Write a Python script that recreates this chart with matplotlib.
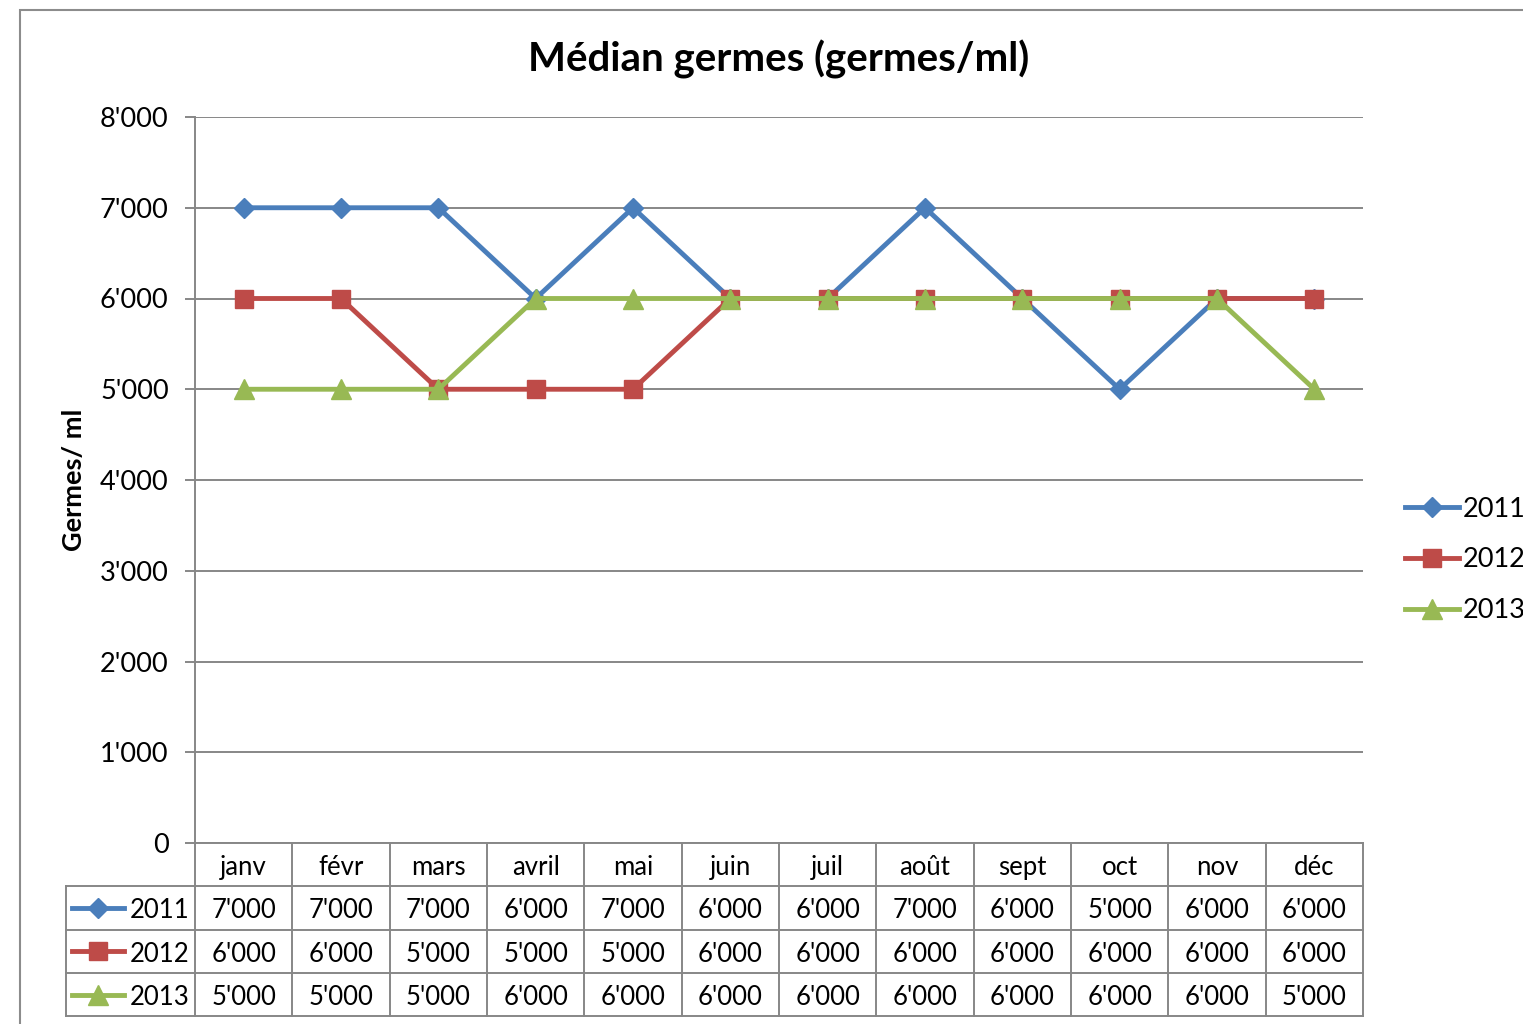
import matplotlib
matplotlib.use("Agg")
import matplotlib.pyplot as plt
from matplotlib.lines import Line2D
from matplotlib.patches import Rectangle
from matplotlib.ticker import FuncFormatter

plt.rcParams['font.family'] = ['Lato', 'DejaVu Sans']

months = ['janv', 'févr', 'mars', 'avril', 'mai', 'juin',
          'juil', 'août', 'sept', 'oct', 'nov', 'déc']
years = ['2011', '2012', '2013']
v2011 = [7000, 7000, 7000, 6000, 7000, 6000, 6000, 7000, 6000, 5000, 6000, 6000]
v2012 = [6000, 6000, 5000, 5000, 5000, 6000, 6000, 6000, 6000, 6000, 6000, 6000]
v2013 = [5000, 5000, 5000, 6000, 6000, 6000, 6000, 6000, 6000, 6000, 6000, 5000]
series = [v2011, v2012, v2013]
colors = ['#4A7EBB', '#BE4B48', '#98B954']
markers = ['D', 's', '^']
msizes = [10.5, 13.5, 14.5]


def swiss(v, pos=None):
    return f"{int(v):,}".replace(',', "'")


grey = '#878787'
fig = plt.figure(figsize=(15.23, 10.24), dpi=100)
ax = fig.add_axes([195 / 1523, 1 - 843 / 1024, 1168 / 1523, 726 / 1024])

# cadre du graphique (coupé à droite / en bas comme la capture)
fig.patches.append(Rectangle((20 / 1523, -0.1), 1.2, 1 - 10 / 1024 + 0.1,
                             transform=fig.transFigure, fill=False,
                             edgecolor='#8c8c8c', lw=1.5))

x = list(range(len(months)))
for i, (vals, c, m, ms) in enumerate(zip(series, colors, markers, msizes)):
    ax.plot(x, vals, color=c, lw=3.5, marker=m, ms=ms, mec=c, mfc=c,
            label=years[i], zorder=3 + i, solid_joinstyle='miter')

ax.set_xlim(-0.5, len(months) - 0.5)
ax.set_ylim(0, 8000)
ax.set_yticks(range(0, 8001, 1000))
ax.yaxis.set_major_formatter(FuncFormatter(swiss))
ax.grid(axis='y', color=grey, lw=1.4)
ax.set_axisbelow(True)
ax.set_xticks([])
for s in ['top', 'right']:
    ax.spines[s].set_visible(False)
for s in ['left', 'bottom']:
    ax.spines[s].set_color(grey)
    ax.spines[s].set_linewidth(1.4)
ax.tick_params(axis='y', length=7, width=1.4, color=grey, labelsize=19.5, pad=12)

ax.set_ylabel('Germes/ ml', fontsize=19.5, fontweight='bold', labelpad=10)
ax.set_title('Médian germes (germes/ml)', fontsize=29, fontweight='bold', pad=33)

leg = ax.legend(loc='center left', bbox_to_anchor=(1.036, 0.39), frameon=False,
                fontsize=19.5, handlelength=2.0, handletextpad=0.12,
                labelspacing=0.95, borderaxespad=0, borderpad=0)

# tableau de données sous les axes
tr = ax.get_xaxis_transform()
rh = 43.3 / 726
dy = 3 / 726
xl = -0.5 - 129 / 97.33
n = len(months)
lk = dict(color=grey, lw=1.4, transform=tr, clip_on=False)
for j in range(n + 1):
    ax.add_line(Line2D([j - 0.5, j - 0.5], [0, -4 * rh], **lk))
ax.add_line(Line2D([xl, xl], [-rh, -4 * rh], **lk))
for r in range(1, 5):
    ax.add_line(Line2D([xl, n - 0.5], [-r * rh, -r * rh], **lk))
for j, mname in enumerate(months):
    ax.text(j, -0.5 * rh - dy, mname, transform=tr, ha='center', va='center', fontsize=18.5)
for r, (vals, c, m, ms) in enumerate(zip(series, colors, markers, msizes)):
    yc = -(r + 1.5) * rh
    for j, v in enumerate(vals):
        ax.text(j, yc - dy, swiss(v), transform=tr, ha='center', va='center', fontsize=18.5)
    ax.add_line(Line2D([xl + 0.06, xl + 0.6], [yc, yc], color=c, lw=3.5,
                       transform=tr, clip_on=False))
    ax.add_line(Line2D([xl + 0.33], [yc], color=c, marker=m, ms=ms, mec=c, mfc=c,
                       transform=tr, clip_on=False))
    ax.text(-0.56, yc - dy, years[r], transform=tr, ha='right', va='center', fontsize=18.5)

fig.savefig('out.png', dpi=100)
